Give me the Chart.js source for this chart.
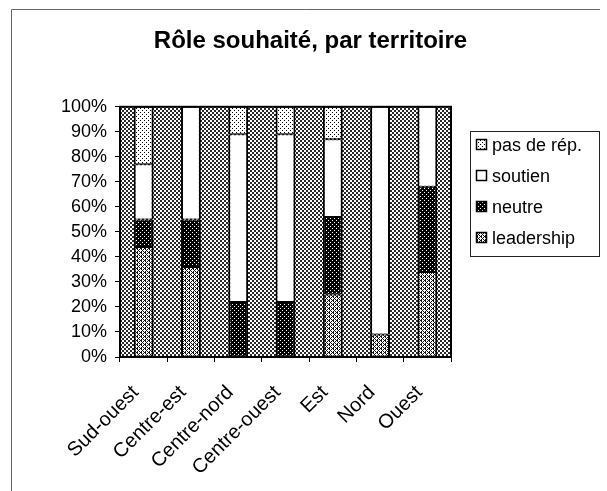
<!DOCTYPE html>
<html lang="fr">
<head>
<meta charset="UTF-8">
<title>Rôle souhaité, par territoire</title>
<script src="https://cdn.jsdelivr.net/npm/chart.js"></script>
<style>
  body { margin: 0; background: #fff; }
  canvas { display: block; }
</style>
</head>
<body>
<canvas id="graphique" width="607" height="491"></canvas>
<script>
// Données (pourcentages par territoire)
const territoires = ['Sud-ouest', 'Centre-est', 'Centre-nord', 'Centre-ouest', 'Est', 'Nord', 'Ouest'];
const leadership = [44, 36, 0, 0, 25, 9, 34];
const neutre     = [11, 19, 22, 22, 31, 0, 34];
const soutien    = [22, 45, 67, 67, 31, 91, 32];
const pasDeRep   = [23, 0, 11, 11, 13, 0, 0];
const graduations = [0, 10, 20, 30, 40, 50, 60, 70, 80, 90, 100];

const police = 'Arial, "Liberation Sans", sans-serif';

// petits motifs tramés comme dans le graphique Excel d'origine
function motif(taille, encre, estNoir) {
    const c = document.createElement('canvas');
    c.width = taille; c.height = taille;
    const g = c.getContext('2d');
    g.fillStyle = '#fff';
    g.fillRect(0, 0, taille, taille);
    g.fillStyle = encre;
    for (let y = 0; y < taille; y++) {
        for (let x = 0; x < taille; x++) {
            if (estNoir(x, y)) g.fillRect(x, y, 1, 1);
        }
    }
    return g.createPattern(c, 'repeat');
}

const fondTrame  = motif(4, '#2a2a2a', (x, y) => ((x >> 1) + (y >> 1)) % 2 === 0);
const trameLead  = motif(4, '#111', (x, y) => (x + y) % 4 === 0 || (x - y + 8) % 4 === 0 || (x === 1 && y === 0));
const trameNeut  = motif(4, '#000', (x, y) => !((x % 4 === 0 && y % 4 === 0) || (x % 4 === 2 && y % 4 === 2)));
const tramePas   = motif(4, '#000', (x, y) => (x % 4 === 0 && y % 4 === 0) || (x % 4 === 2 && y % 4 === 2));

const bordure = { left: 2, right: 2, top: 1, bottom: 1 };

// fond tramé de la zone de traçage + cadre
const fondZone = {
    id: 'fondZone',
    beforeDatasetsDraw(chart) {
        const a = chart.chartArea, ctx = chart.ctx;
        ctx.save();
        ctx.fillStyle = fondTrame;
        ctx.fillRect(a.left, a.top, a.right - a.left, a.bottom - a.top);
        ctx.restore();
    },
    afterDatasetsDraw(chart) {
        const a = chart.chartArea, ctx = chart.ctx;
        ctx.save();
        ctx.strokeStyle = '#000';
        ctx.lineWidth = 2;
        ctx.strokeRect(a.left, a.top, a.right - a.left, a.bottom - a.top);
        ctx.restore();
    }
};

// légende encadrée à droite, et bord de la feuille scannée
const legendeCadre = {
    id: 'legendeCadre',
    afterDraw(chart) {
        const ctx = chart.ctx;
        ctx.save();
        ctx.strokeStyle = '#666';
        ctx.lineWidth = 1;
        ctx.beginPath();
        ctx.moveTo(11.5, 491); ctx.lineTo(11.5, 9.5); ctx.lineTo(600, 9.5);
        ctx.stroke();

        ctx.strokeStyle = '#222';
        ctx.strokeRect(470.5, 131.5, 129, 125);
        const ds = chart.data.datasets.slice().reverse();
        ctx.font = '18px ' + police;
        ctx.textBaseline = 'middle';
        ds.forEach((d, i) => {
            const y = 145 + i * 31;
            ctx.fillStyle = d.backgroundColor;
            ctx.fillRect(476, y - 6, 11, 11);
            ctx.strokeStyle = '#000';
            ctx.lineWidth = 1.5;
            ctx.strokeRect(476.5, y - 5.5, 10, 10);
            ctx.fillStyle = '#000';
            ctx.fillText(d.label, 492, y + 1);
        });
        ctx.restore();
    }
};

new Chart(document.getElementById('graphique'), {
    type: 'bar',
    data: {
        labels: territoires,
        datasets: [
            { label: 'leadership', data: leadership, backgroundColor: trameLead },
            { label: 'neutre', data: neutre, backgroundColor: trameNeut },
            { label: 'soutien', data: soutien, backgroundColor: '#fff' },
            { label: 'pas de rép.', data: pasDeRep, backgroundColor: tramePas }
        ].map(d => Object.assign(d, {
            borderColor: '#000',
            borderWidth: bordure,
            borderSkipped: false,
            barPercentage: 0.42,
            categoryPercentage: 1.0
        }))
    },
    options: {
        responsive: false,
        animation: false,
        devicePixelRatio: 1,
        layout: { padding: { left: 14, right: 0, top: 0, bottom: 0 } },
        plugins: {
            legend: { display: false },
            tooltip: { enabled: false },
            title: {
                display: true,
                text: 'Rôle souhaité, par territoire',
                color: '#000',
                font: { family: police, size: 24, weight: 'bold' },
                padding: { top: 27, bottom: 51 }
            }
        },
        scales: {
            x: {
                stacked: true,
                grid: { offset: true, drawOnChartArea: false, drawTicks: true, tickLength: 5, color: '#000', lineWidth: 1 },
                border: { display: true, color: '#000', width: 2 },
                ticks: {
                    color: '#000',
                    font: { family: police, size: 20 },
                    minRotation: 45, maxRotation: 45,
                    padding: 19,
                    labelOffset: -8
                },
                afterFit(s) { s.height = 134; }
            },
            y: {
                stacked: true,
                min: 0, max: 100,
                afterBuildTicks(s) { s.ticks = graduations.map(v => ({ value: v })); },
                grid: { drawOnChartArea: false, drawTicks: true, tickLength: 5, color: '#000', lineWidth: 1 },
                border: { display: true, color: '#000', width: 2 },
                ticks: {
                    color: '#000',
                    font: { family: police, size: 18 },
                    padding: 8,
                    callback: v => v + '%'
                },
                afterFit(s) { s.width = 106; }
            },
            reserve: {
                type: 'linear',
                position: 'right',
                grid: { display: false },
                border: { display: false },
                ticks: { display: false },
                afterFit(s) { s.width = 156; }
            }
        }
    },
    plugins: [fondZone, legendeCadre]
});
</script>
</body>
</html>
